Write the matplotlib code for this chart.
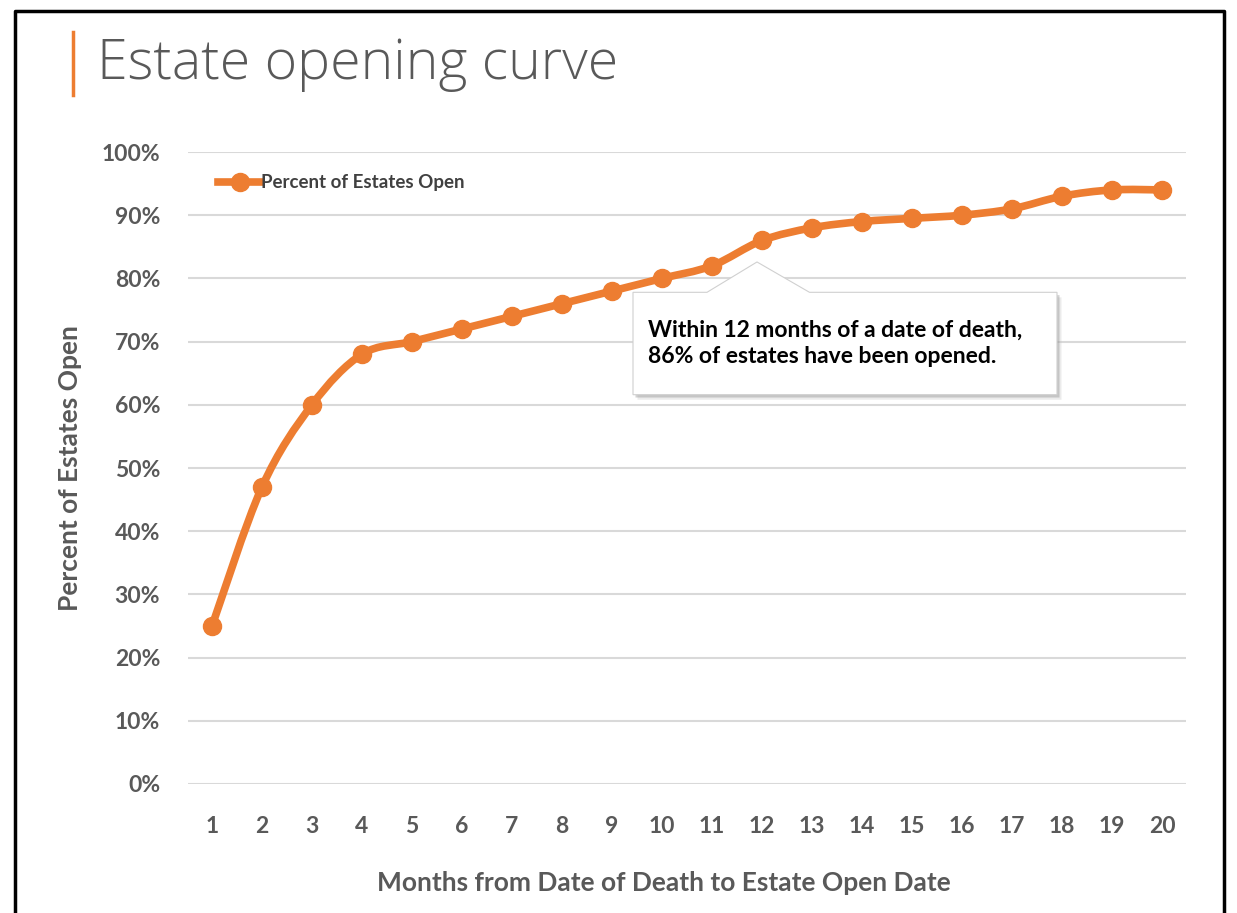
import numpy as np
import matplotlib
matplotlib.use('Agg')
import matplotlib.pyplot as plt
from matplotlib.path import Path
from matplotlib.patches import PathPatch, Polygon
from matplotlib.lines import Line2D

# Donnees
months = [1, 2, 3, 4, 5, 6, 7, 8, 9, 10, 11, 12, 13, 14, 15, 16, 17, 18, 19, 20]
pct_open = [25, 47, 60, 68, 70, 72, 74, 76, 78, 80, 82, 86, 88, 89, 89.5, 90, 91, 93, 94, 94]
y_ticks = [0, 10, 20, 30, 40, 50, 60, 70, 80, 90, 100]
y_labels = [f"{v}%" for v in y_ticks]

title = "Estate opening curve"
series_name = "Percent of Estates Open"
callout = "Within 12 months of a date of death,\n86% of estates have been opened."
callout_month = 12

orange = '#ED7D31'
gray_txt = '#595959'
grid_col = '#D9D9D9'

fig = plt.figure(figsize=(12.37, 9.13), dpi=100)
fig.patch.set_facecolor('white')
ax = fig.add_axes([188 / 1237, 1 - 784 / 913, (1186 - 188) / 1237, (784 - 152) / 913])

# courbe lissee (Bezier type Catmull-Rom, comme Excel)
x = np.array(months, dtype=float)
y = np.array(pct_open, dtype=float)
verts = [(x[0], y[0])]
codes = [Path.MOVETO]
n = len(x)
for i in range(n - 1):
    p0 = (x[max(i - 1, 0)], y[max(i - 1, 0)])
    p1 = (x[i], y[i])
    p2 = (x[i + 1], y[i + 1])
    p3 = (x[min(i + 2, n - 1)], y[min(i + 2, n - 1)])
    c1 = (p1[0] + (p2[0] - p0[0]) / 6, p1[1] + (p2[1] - p0[1]) / 6)
    c2 = (p2[0] - (p3[0] - p1[0]) / 6, p2[1] - (p3[1] - p1[1]) / 6)
    verts += [c1, c2, p2]
    codes += [Path.CURVE4] * 3
ax.add_patch(PathPatch(Path(verts, codes), facecolor='none', edgecolor=orange,
                       lw=5.5, capstyle='round', joinstyle='round', zorder=3))
ax.plot(months, pct_open, linestyle='none', marker='o', ms=13, color=orange, zorder=4)

ax.set_xlim(0.52, 20.48)
ax.set_ylim(0, 100)
ax.set_xticks(months)
ax.set_xticklabels([str(m) for m in months])
ax.set_yticks(y_ticks)
ax.set_yticklabels(y_labels)
for s in ax.spines.values():
    s.set_visible(False)
ax.grid(axis='y', color=grid_col, lw=1.5)
ax.set_axisbelow(True)
ax.tick_params(length=0)
ax.tick_params(axis='x', pad=23)
ax.tick_params(axis='y', pad=20)
for lab in ax.get_xticklabels() + ax.get_yticklabels():
    lab.set_fontfamily('Lato')
    lab.set_fontweight('bold')
    lab.set_fontsize(16.5)
    lab.set_color(gray_txt)

ax.set_xlabel("Months from Date of Death to Estate Open Date", fontfamily='Lato',
              fontweight='bold', fontsize=19, color=gray_txt)
ax.xaxis.set_label_coords(0.477, -0.137)
ax.set_ylabel("Percent of Estates Open", fontfamily='Lato', fontweight='bold',
              fontsize=19, color=gray_txt, labelpad=14)

# legende
leg_line = Line2D([], [], color=orange, lw=5.5, marker='o', ms=13)
leg = ax.legend([leg_line], [series_name], loc='center left', bbox_to_anchor=(0.03, 0.951),
                frameon=False, handlelength=2.3, handletextpad=0.0, borderpad=0,
                borderaxespad=0, prop={'family': 'Lato', 'weight': 'bold', 'size': 13.5})
for t in leg.get_texts():
    t.set_color('#404040')

# bulle d'annotation
i12 = months.index(callout_month)
tip = (months[i12] - 0.1, pct_open[i12] - 3.4)
bx0, bx1 = tip[0] - 2.48, tip[0] + 6.0
by0, by1 = tip[1] - 21.0, tip[1] - 4.8
pts = [(bx0, by1), (tip[0] - 1.0, by1), tip, (tip[0] + 1.05, by1), (bx1, by1), (bx1, by0), (bx0, by0)]
shadow = Polygon([(px + 0.05, py - 0.45) for px, py in pts], closed=True, facecolor='#7F7F7F',
                 edgecolor='none', alpha=0.35, zorder=5)
shadow2 = Polygon([(px + 0.09, py - 0.8) for px, py in pts], closed=True, facecolor='#BFBFBF',
                  edgecolor='none', alpha=0.3, zorder=5)
ax.add_patch(shadow2)
ax.add_patch(shadow)
ax.add_patch(Polygon(pts, closed=True, facecolor='white', edgecolor='#D0D0D0', lw=0.8, zorder=6))
ax.text(bx0 + 0.3, (by0 + by1) / 2, callout, ha='left', va='center', fontfamily='Lato',
        fontweight='bold', fontsize=16.5, color='black', linespacing=1.33, zorder=7)

# titre + barre orange
fig.text(97 / 1237, 1 - 64 / 913, title, fontfamily='Open Sans', fontweight='light',
         fontsize=40, color=gray_txt, ha='left', va='center')
fig.add_artist(Line2D([73 / 1237, 73 / 1237], [1 - 32 / 913, 1 - 95 / 913], color=orange, lw=2.5))

# cadre noir
fx0, fx1, fy1 = 15 / 1237, 1224 / 1237, 1 - 11 / 913
fig.add_artist(Line2D([fx0, fx0, fx1, fx1], [0, fy1, fy1, 0], color='black', lw=2.5))

fig.savefig('out.png', dpi=100, facecolor='white')
